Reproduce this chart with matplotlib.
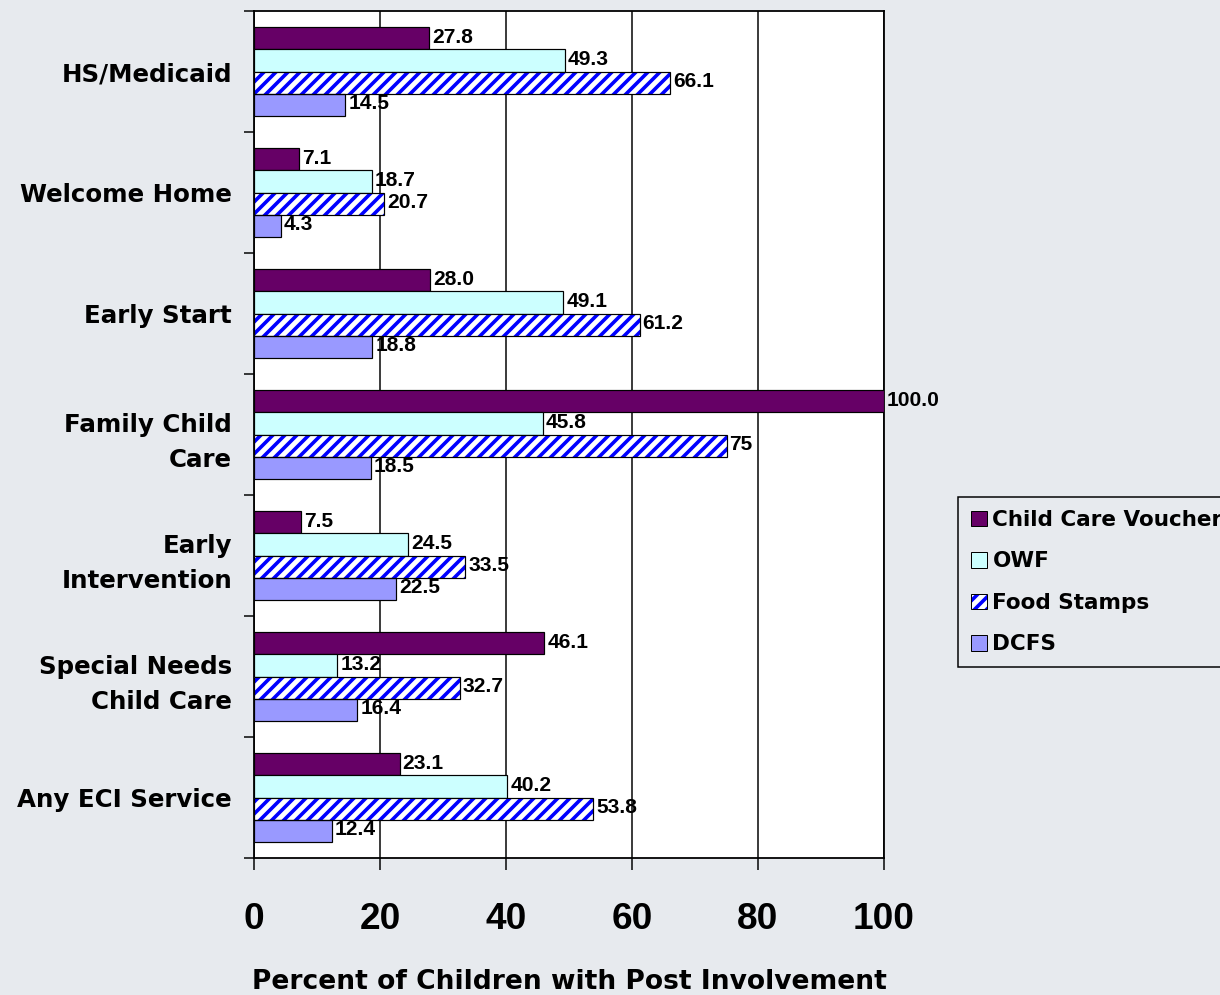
import numpy as np
import matplotlib
matplotlib.use('Agg')
import matplotlib.pyplot as plt
from matplotlib.patches import Patch
from matplotlib.legend_handler import HandlerTuple

# dati
categorie = ['HS/Medicaid', 'Welcome Home', 'Early Start', 'Family Child\nCare',
             'Early\nIntervention', 'Special Needs\nChild Care', 'Any ECI Service']
voucher   = [27.8, 7.1, 28.0, 100.0, 7.5, 46.1, 23.1]
owf       = [49.3, 18.7, 49.1, 45.8, 24.5, 13.2, 40.2]
food      = [66.1, 20.7, 61.2, 75.0, 33.5, 32.7, 53.8]
food_lab  = ['66.1', '20.7', '61.2', '75', '33.5', '32.7', '53.8']
dcfs      = [14.5, 4.3, 18.8, 18.5, 22.5, 16.4, 12.4]
serie     = ['Child Care Voucher', 'OWF', 'Food Stamps', 'DCFS']
xticks    = [0, 20, 40, 60, 80, 100]

bg = '#E7EAEE'
c_vou, c_owf, c_food, c_dcfs = '#660066', '#CCFFFF', '#0000FF', '#9999FF'

DPI = 72
plt.rcParams['hatch.linewidth'] = 3.6
fig = plt.figure(figsize=(1220/DPI, 995/DPI), dpi=DPI, facecolor=bg)
ax = fig.add_axes([254/1220, 1-858/995, 630/1220, 847/995])
ax.set_facecolor('white')

n = len(categorie)
y0 = np.arange(n)
h = 0.184

def etichette(bars, testi):
    for b, t in zip(bars, testi):
        ax.annotate(t, (b.get_width(), b.get_y() + b.get_height()/2),
                    xytext=(3, 1), textcoords='offset points', va='center', ha='left',
                    fontsize=21, fontweight='bold', family='Liberation Sans', clip_on=False)

b1 = ax.barh(y0 - 1.5*h, voucher, h, color=c_vou, edgecolor='black', lw=1.2, zorder=3)
b2 = ax.barh(y0 - 0.5*h, owf, h, color=c_owf, edgecolor='black', lw=1.2, zorder=3)
ax.barh(y0 + 0.5*h, food, h, color='white', edgecolor=c_food, hatch='//', lw=0, zorder=3)
b3 = ax.barh(y0 + 0.5*h, food, h, fill=False, edgecolor='black', lw=1.2, zorder=4)
b4 = ax.barh(y0 + 1.5*h, dcfs, h, color=c_dcfs, edgecolor='black', lw=1.2, zorder=3)

etichette(b1, ['%.1f' % v for v in voucher])
etichette(b2, ['%.1f' % v for v in owf])
etichette(b3, food_lab)
etichette(b4, ['%.1f' % v for v in dcfs])

ax.set_xlim(0, 100)
ax.set_ylim(n - 0.5, -0.5)
ax.set_xticks(xticks)
ax.set_xticklabels([str(t) for t in xticks], fontsize=37, fontweight='bold', family='Liberation Sans')
ax.set_yticks(y0)
ax.set_yticklabels(categorie, fontsize=24.5, fontweight='bold', linespacing=1.6)
ax.set_yticks(np.arange(n + 1) - 0.5, minor=True)
ax.tick_params(axis='y', which='major', length=0, pad=22)
ax.tick_params(axis='y', which='minor', length=10, width=1.5, direction='out')
ax.tick_params(axis='x', length=12, width=1.5, direction='out', pad=32)
ax.grid(axis='x', color='black', lw=1.5, zorder=1)
for s in ax.spines.values():
    s.set_linewidth(1.8)
ax.set_xlabel('Percent of Children with Post Involvement', fontsize=26.5,
              fontweight='bold', labelpad=32)

# legenda (tagliata a destra come nell'originale)
handles = [Patch(facecolor=c_vou, edgecolor='black'),
           Patch(facecolor=c_owf, edgecolor='black'),
           (Patch(facecolor='white', edgecolor=c_food, hatch='//', lw=0),
            Patch(fill=False, edgecolor='black')),
           Patch(facecolor=c_dcfs, edgecolor='black')]
leg = fig.legend(handles, serie, loc='upper left', bbox_to_anchor=(958/1220, 1-497/995),
                 bbox_transform=fig.transFigure, borderaxespad=0, fancybox=False,
                 facecolor=bg, edgecolor='black', framealpha=1,
                 prop={'weight': 'bold', 'size': 21.5}, handlelength=0.75, handleheight=0.75,
                 handletextpad=0.25, labelspacing=1.0, borderpad=0.6,
                 handler_map={tuple: HandlerTuple(ndivide=1, pad=0)})
leg.get_frame().set_linewidth(1.5)

fig.savefig('out.png', dpi=DPI, facecolor=bg)
